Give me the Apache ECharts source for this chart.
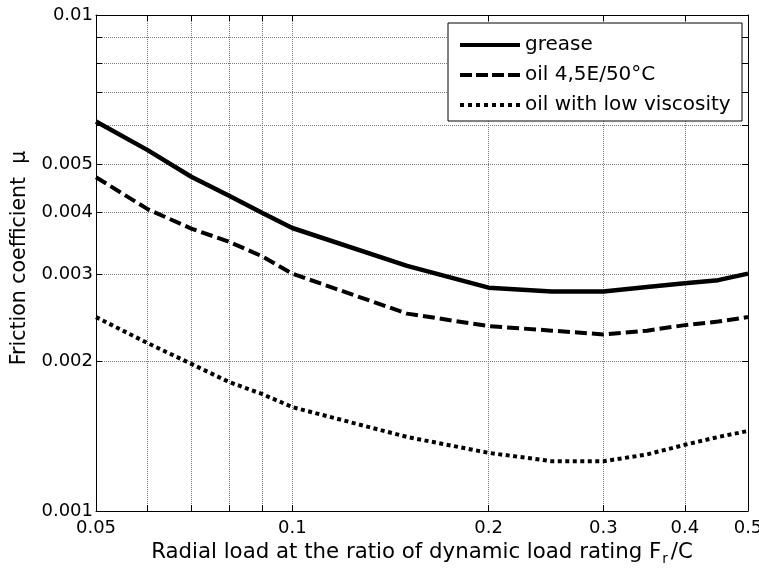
<!DOCTYPE html>
<html>
<head>
<meta charset="utf-8">
<script src="https://cdn.jsdelivr.net/npm/echarts@6/dist/echarts.min.js"></script>
<style>
  html, body { margin: 0; padding: 0; background: #fff; }
  #chart { width: 759px; height: 573px; }
</style>
</head>
<body>
<div id="chart"></div>
<script>
// radial load ratio Fr/C (x) and friction coefficient (y)
var loadRatio = [0.05, 0.06, 0.07, 0.08, 0.09, 0.1, 0.15, 0.2, 0.25, 0.3, 0.35, 0.4, 0.45, 0.5];
var grease = [0.0061, 0.00534, 0.00472, 0.00432, 0.00399, 0.00372, 0.00312, 0.00282, 0.00277, 0.00277, 0.00283, 0.00288, 0.00292, 0.00301];
var oilNormal = [0.00471, 0.00406, 0.00371, 0.00349, 0.00326, 0.00301, 0.0025, 0.00236, 0.00231, 0.00227, 0.00231, 0.00237, 0.00241, 0.00246];
var oilLowVisc = [0.00246, 0.00218, 0.00198, 0.00182, 0.00172, 0.00162, 0.00141, 0.00131, 0.00126, 0.00126, 0.0013, 0.00136, 0.00141, 0.00145];

var seriesNames = ['grease', 'oil 4,5E/50°C', 'oil with low viscosity'];

// log grid positions and labelled ticks
var xTicks = [0.05, 0.06, 0.07, 0.08, 0.09, 0.1, 0.2, 0.3, 0.4, 0.5];
var xLabels = [0.05, 0.1, 0.2, 0.3, 0.4, 0.5];
var yTicks = [0.001, 0.002, 0.003, 0.004, 0.005, 0.006, 0.007, 0.008, 0.009, 0.01];
var yLabels = [0.001, 0.002, 0.003, 0.004, 0.005, 0.01];

var FONT = 'DejaVu Sans';
var lg = function (v) { return Math.log10(v); };
var fmt = function (v) { return String(Number(Math.pow(10, v).toFixed(4))); };

var chart = echarts.init(document.getElementById('chart'));

function pairs(ys) {
  return loadRatio.map(function (x, i) { return [x, ys[i]]; });
}

// value axes in log10 space, only used to draw ticks / labels / grid
function gridAxis(min, max, ticks, labels, pos, main) {
  return {
    type: 'value',
    position: pos,
    min: lg(min),
    max: lg(max),
    axisLine: { show: true, onZero: false, lineStyle: { color: '#000', width: 1 } },
    axisTick: { show: true, inside: true, length: 6, customValues: ticks.map(lg), lineStyle: { color: '#000', width: 1 } },
    axisLabel: {
      show: main,
      customValues: labels.map(lg),
      formatter: fmt,
      showMinLabel: true,
      showMaxLabel: true,
      fontFamily: FONT,
      fontSize: 18,
      color: '#000'
    },
    splitLine: { show: main, lineStyle: { color: '#7a7a7a', width: 1, type: [1, 1] } }
  };
}

var xMain = gridAxis(0.05, 0.5, xTicks, xLabels, 'bottom', true);
xMain.axisLabel.margin = 8;
xMain.name = '{a|Radial load at the ratio of dynamic load rating F}{s|r}{a|/C}';
xMain.nameLocation = 'middle';
xMain.nameGap = 26;
xMain.nameTextStyle = {
  rich: {
    a: { fontFamily: FONT, fontSize: 21.3, color: '#000', lineHeight: 28, verticalAlign: 'middle' },
    s: { fontFamily: FONT, fontSize: 13.5, color: '#000', lineHeight: 13, verticalAlign: 'bottom', padding: [0, 3, 0, 1] }
  }
};

var yMain = gridAxis(0.001, 0.01, yTicks, yLabels, 'left', true);
yMain.axisLabel.margin = 3;
yMain.name = 'Friction coefficient  μ';
yMain.nameLocation = 'middle';
yMain.nameGap = 63;
yMain.nameTextStyle = { fontFamily: FONT, fontSize: 20.5, color: '#000', padding: [0, 0, 0, 10] };

chart.setOption({
  animation: false,
  backgroundColor: '#fff',
  grid: { left: 96, right: 11, top: 15, bottom: 62, containLabel: false, outerBoundsMode: 'none' },
  legend: {
    orient: 'vertical',
    left: 448,
    top: 23,
    padding: [11, 8, 5, 12],
    itemGap: 8,
    itemWidth: 60,
    itemHeight: 4,
    borderColor: '#000',
    borderWidth: 1,
    borderRadius: 0,
    backgroundColor: '#fff',
    itemStyle: { borderWidth: 0 },
    textStyle: { fontFamily: FONT, fontSize: 20, color: '#000', lineHeight: 22, width: 209 },
    data: [
      { name: seriesNames[0], icon: 'rect' },
      { name: seriesNames[1], icon: 'path://M0,0H12V4H0Z M16,0H28V4H16Z M32,0H44V4H32Z M48,0H60V4H48Z' },
      { name: seriesNames[2], icon: 'path://M0,0H4V4H0Z M8,0H12V4H8Z M16,0H20V4H16Z M24,0H28V4H24Z M32,0H36V4H32Z M40,0H44V4H40Z M48,0H52V4H48Z M56,0H60V4H56Z' }
    ]
  },
  xAxis: [
    { type: 'log', logBase: 10, min: 0.05, max: 0.5, show: false, position: 'bottom' },
    xMain,
    gridAxis(0.05, 0.5, xTicks, xLabels, 'top', false)
  ],
  yAxis: [
    { type: 'log', logBase: 10, min: 0.001, max: 0.01, show: false, position: 'left' },
    yMain,
    gridAxis(0.001, 0.01, yTicks, yLabels, 'right', false)
  ],
  series: [
    {
      name: seriesNames[0], type: 'line', xAxisIndex: 0, yAxisIndex: 0,
      data: pairs(grease), symbol: 'none', color: '#000',
      lineStyle: { color: '#000', width: 4.5, type: 'solid' }
    },
    {
      name: seriesNames[1], type: 'line', xAxisIndex: 0, yAxisIndex: 0,
      data: pairs(oilNormal), symbol: 'none', color: '#000',
      lineStyle: { color: '#000', width: 4, type: [12, 5] }
    },
    {
      name: seriesNames[2], type: 'line', xAxisIndex: 0, yAxisIndex: 0,
      data: pairs(oilLowVisc), symbol: 'none', color: '#000',
      lineStyle: { color: '#000', width: 4, type: [4, 3.5] }
    }
  ]
});
</script>
</body>
</html>
